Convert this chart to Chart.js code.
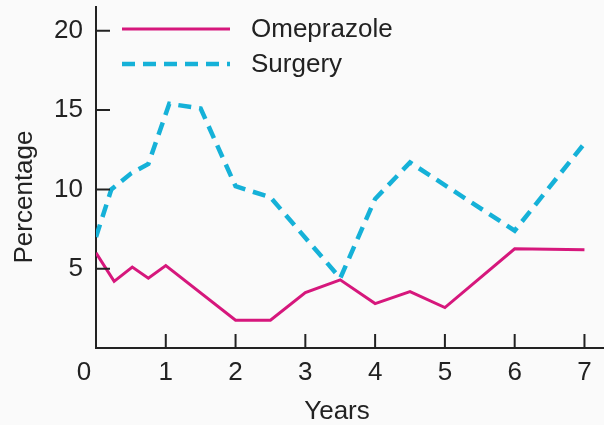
<!DOCTYPE html>
<html>
<head>
<meta charset="utf-8">
<script src="https://cdn.jsdelivr.net/npm/chart.js@4"></script>
<style>
  html, body { margin: 0; padding: 0; background: #fafafa; }
  canvas { display: block; }
</style>
</head>
<body>
<canvas id="chart" width="604" height="425"></canvas>
<script>
// valeurs relevées pour chaque groupe (années de suivi, pourcentage)
const omeprazoleYears = [0, 0.26, 0.52, 0.75, 1, 2, 2.5, 3, 3.5, 4, 4.5, 5, 6, 7];
const omeprazoleValues = [6.0, 4.2, 5.1, 4.4, 5.2, 1.75, 1.75, 3.5, 4.3, 2.8, 3.55, 2.55, 6.25, 6.2];
const surgeryYears = [0, 0.22, 0.5, 0.75, 1.05, 1.5, 2, 2.5, 3.5, 4, 4.5, 6, 7];
const surgeryValues = [7.0, 10.0, 11.0, 11.6, 15.4, 15.1, 10.2, 9.5, 4.4, 9.4, 11.7, 7.4, 12.9];

const seriesNames = ['Omeprazole', 'Surgery'];
const xTicks = [0, 1, 2, 3, 4, 5, 6, 7];
const yTicks = [5, 10, 15, 20];
const xTitle = 'Years';
const yTitle = 'Percentage';

const ink = '#222';
const font = '26px "Liberation Sans", Arial, sans-serif';

function toPoints(xs, ys) {
    return xs.map((x, i) => ({ x: x, y: ys[i] }));
}

// pas de marge automatique autour des axes
function noPadding(s) {
    s.paddingTop = 0;
    s.paddingBottom = 0;
    s.paddingLeft = 0;
    s.paddingRight = 0;
}

// ticks vers l'intérieur, titres d'axes et légende dessinés à la main
const decorations = {
    id: 'decorations',
    afterDraw(chart) {
        const ctx = chart.ctx;
        const x = chart.scales.x;
        const y = chart.scales.y;
        const area = chart.chartArea;
        ctx.save();
        ctx.strokeStyle = ink;
        ctx.lineWidth = 2;
        ctx.beginPath();
        for (const v of xTicks) {
            if (v === 0) continue;
            const px = x.getPixelForValue(v);
            ctx.moveTo(px, area.bottom);
            ctx.lineTo(px, area.bottom - 14);
        }
        for (const v of yTicks) {
            const py = y.getPixelForValue(v);
            ctx.moveTo(area.left, py);
            ctx.lineTo(area.left + 14, py);
        }
        ctx.stroke();

        ctx.fillStyle = ink;
        ctx.font = font;
        ctx.textAlign = 'center';
        ctx.textBaseline = 'alphabetic';
        // le "0" est décalé à gauche de l'origine
        ctx.fillText('0', area.left - 12, 380);
        ctx.fillText(xTitle, 337, 419);

        ctx.save();
        ctx.translate(32, 197);
        ctx.rotate(-Math.PI / 2);
        ctx.fillText(yTitle, 0, 0);
        ctx.restore();

        // légende
        const rows = [29, 64];
        chart.data.datasets.forEach((ds, i) => {
            ctx.save();
            ctx.strokeStyle = ds.borderColor;
            ctx.lineWidth = ds.borderWidth;
            ctx.setLineDash(ds.borderDash || []);
            ctx.beginPath();
            ctx.moveTo(122, rows[i]);
            ctx.lineTo(230, rows[i]);
            ctx.stroke();
            ctx.restore();
            ctx.textAlign = 'left';
            ctx.textBaseline = 'middle';
            ctx.fillText(ds.label, 251, rows[i] + 1);
        });
        ctx.restore();
    }
};

const ctx = document.getElementById('chart').getContext('2d');
const myChart = new Chart(ctx, {
    type: 'line',
    data: {
        datasets: [
            {
                label: seriesNames[0],
                data: toPoints(omeprazoleYears, omeprazoleValues),
                borderColor: '#d6177c',
                borderWidth: 3,
                pointRadius: 0,
                tension: 0
            },
            {
                label: seriesNames[1],
                data: toPoints(surgeryYears, surgeryValues),
                borderColor: '#15b1d8',
                borderWidth: 4.5,
                borderDash: [13, 8],
                pointRadius: 0,
                tension: 0
            }
        ]
    },
    options: {
        responsive: false,
        animation: false,
        layout: { padding: { top: 7, right: 0, left: 0, bottom: 0 } },
        plugins: {
            legend: { display: false },
            tooltip: { enabled: false }
        },
        scales: {
            x: {
                type: 'linear',
                min: 0,
                max: 7.28,
                grid: { display: false },
                border: { display: true, color: ink, width: 2 },
                afterBuildTicks: s => { s.ticks = xTicks.map(v => ({ value: v })); },
                afterFit: s => { s.height = 77; noPadding(s); },
                ticks: {
                    color: ink,
                    font: { family: '"Liberation Sans", Arial, sans-serif', size: 26 },
                    padding: 1,
                    callback: v => (v === 0 ? '' : v)
                }
            },
            y: {
                type: 'linear',
                min: 0,
                max: 21.5,
                grid: { display: false },
                border: { display: true, color: ink, width: 2 },
                afterBuildTicks: s => { s.ticks = yTicks.map(v => ({ value: v })); },
                afterFit: s => { s.width = 96; noPadding(s); },
                ticks: {
                    color: ink,
                    font: { family: '"Liberation Sans", Arial, sans-serif', size: 26 },
                    padding: 5
                }
            }
        }
    },
    plugins: [decorations]
});
</script>
</body>
</html>
